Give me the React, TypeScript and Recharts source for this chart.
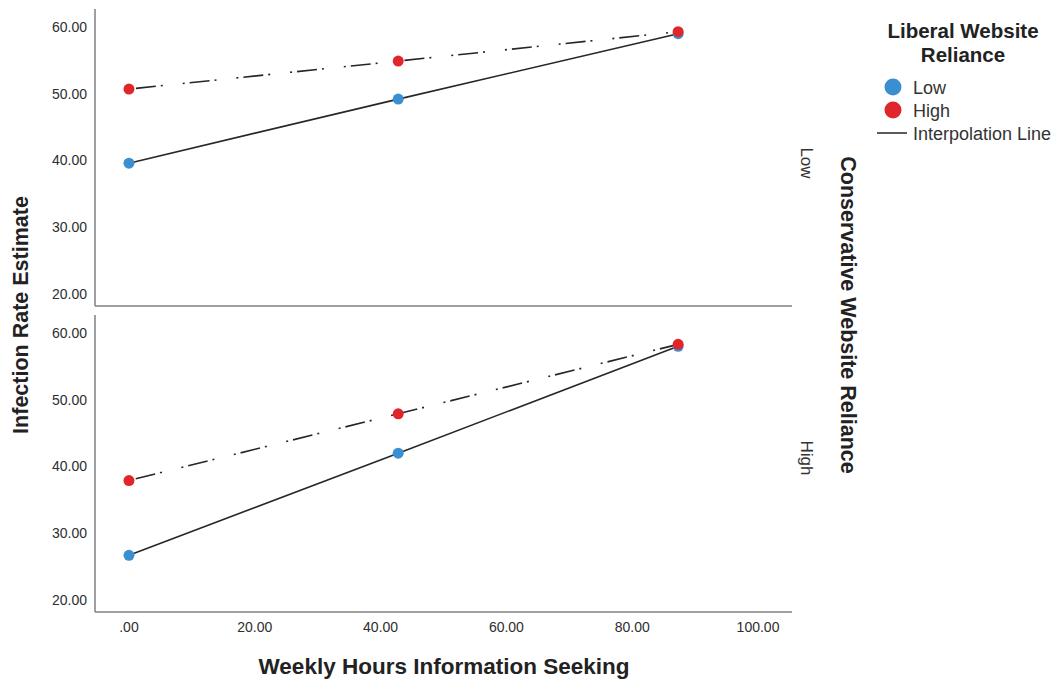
import React from "react";
import { LineChart, Line, XAxis, YAxis } from "recharts";

// x positions (weekly hours) shared by both panels
const hours = [0, 42.8, 87.3];

// Conservative reliance = Low (top panel)
const lowConsLowLib = [39.6, 49.2, 59.0];
const lowConsHighLib = [50.7, 54.9, 59.3];

// Conservative reliance = High (bottom panel)
const highConsLowLib = [26.7, 42.0, 58.0];
const highConsHighLib = [37.9, 47.9, 58.3];

const xTicks = [0, 20, 40, 60, 80, 100];
const yTicks = [20, 30, 40, 50, 60];

const BLUE = "#3a8fd1";
const RED = "#e1262b";
const INK = "#262626";
const AXIS = "#808080";
const FONT = '"Liberation Sans", Arial, Helvetica, sans-serif';

const X_DOMAIN: [number, number] = [-5.4, 105.4];
const Y_DOMAIN: [number, number] = [18.2, 62.7];

const fmtX = (v: number) => (v === 0 ? ".00" : v.toFixed(2));
const fmtY = (v: number) => v.toFixed(2);

const buildRows = (low: number[], high: number[]) =>
  hours.map((h, i) => ({ hours: h, low: low[i], high: high[i] }));

const topRows = buildRows(lowConsLowLib, lowConsHighLib);
const bottomRows = buildRows(highConsLowLib, highConsHighLib);

const tickStyle = { fill: "#2e2e2e", fontSize: 14, fontFamily: FONT };

function Series() {
  return (
    <>
      <Line
        type="linear"
        dataKey="low"
        stroke={INK}
        strokeWidth={1.6}
        dot={{ r: 5.5, fill: BLUE, stroke: BLUE, strokeWidth: 0 }}
        activeDot={false}
        isAnimationActive={false}
      />
      <Line
        type="linear"
        dataKey="high"
        stroke={INK}
        strokeWidth={1.6}
        strokeDasharray="2 5 20 5 2 20"
        dot={{ r: 5.5, fill: RED, stroke: RED, strokeWidth: 0, strokeDasharray: "0" }}
        activeDot={false}
        isAnimationActive={false}
      />
    </>
  );
}

export default function App() {
  return (
    <div
      style={{
        position: "absolute",
        left: 0,
        top: 0,
        width: 1054,
        height: 679,
        background: "#fff",
        fontFamily: FONT,
        overflow: "hidden",
      }}
    >
      {/* top panel: conservative Low */}
      <div style={{ position: "absolute", left: 0, top: 0 }}>
        <LineChart width={800} height={320} data={topRows} margin={{ top: 9, right: 8, left: 0, bottom: 0 }}>
          <XAxis
            type="number"
            dataKey="hours"
            domain={X_DOMAIN}
            ticks={xTicks}
            allowDataOverflow
            tick={false}
            tickLine={false}
            height={14}
            axisLine={{ stroke: AXIS, strokeWidth: 1.5 }}
          />
          <YAxis
            type="number"
            domain={Y_DOMAIN}
            ticks={yTicks}
            allowDataOverflow
            width={95}
            tickFormatter={fmtY}
            tick={tickStyle}
            tickLine={false}
            tickSize={0}
            tickMargin={8}
            axisLine={{ stroke: AXIS, strokeWidth: 1.5 }}
          />
          {Series()}
        </LineChart>
      </div>

      {/* bottom panel: conservative High */}
      <div style={{ position: "absolute", left: 0, top: 300 }}>
        <LineChart width={800} height={360} data={bottomRows} margin={{ top: 15, right: 8, left: 0, bottom: 0 }}>
          <XAxis
            type="number"
            dataKey="hours"
            domain={X_DOMAIN}
            ticks={xTicks}
            allowDataOverflow
            tickFormatter={fmtX}
            tick={tickStyle}
            tickLine={false}
            tickSize={0}
            tickMargin={10}
            height={48}
            axisLine={{ stroke: AXIS, strokeWidth: 1.5 }}
          />
          <YAxis
            type="number"
            domain={Y_DOMAIN}
            ticks={yTicks}
            allowDataOverflow
            width={95}
            tickFormatter={fmtY}
            tick={tickStyle}
            tickLine={false}
            tickSize={0}
            tickMargin={8}
            axisLine={{ stroke: AXIS, strokeWidth: 1.5 }}
          />
          {Series()}
        </LineChart>
      </div>

      {/* titles, facet labels and legend */}
      <svg
        width={1054}
        height={679}
        style={{ position: "absolute", left: 0, top: 0, pointerEvents: "none" }}
        fontFamily={FONT}
      >
        <text transform="translate(21,315) rotate(-90)" textAnchor="middle" dominantBaseline="central" fontSize={21.5} fontWeight="bold" fill="#222">
          Infection Rate Estimate
        </text>
        <text x={444} y={666} textAnchor="middle" dominantBaseline="central" fontSize={22.5} fontWeight="bold" fill="#222">
          Weekly Hours Information Seeking
        </text>
        <text transform="translate(848,315) rotate(90)" textAnchor="middle" dominantBaseline="central" fontSize={21.5} fontWeight="bold" fill="#222">
          Conservative Website Reliance
        </text>
        <text transform="translate(806,163) rotate(90)" textAnchor="middle" dominantBaseline="central" fontSize={17} fill="#333">
          Low
        </text>
        <text transform="translate(806,458) rotate(90)" textAnchor="middle" dominantBaseline="central" fontSize={17} fill="#333">
          High
        </text>

        <text x={963} y={30.5} textAnchor="middle" dominantBaseline="central" fontSize={20.5} fontWeight="bold" fill="#222">
          Liberal Website
        </text>
        <text x={963} y={54.5} textAnchor="middle" dominantBaseline="central" fontSize={20.5} fontWeight="bold" fill="#222">
          Reliance
        </text>
        <circle cx={893} cy={87} r={8.5} fill={BLUE} />
        <text x={913} y={88} dominantBaseline="central" fontSize={18} fill="#333">
          Low
        </text>
        <circle cx={893} cy={110} r={8.5} fill={RED} />
        <text x={913} y={111} dominantBaseline="central" fontSize={18} fill="#333">
          High
        </text>
        <line x1={877} x2={907} y1={133} y2={133} stroke={INK} strokeWidth={1.5} />
        <text x={913} y={134} dominantBaseline="central" fontSize={18} fill="#333">
          Interpolation Line
        </text>
      </svg>
    </div>
  );
}
